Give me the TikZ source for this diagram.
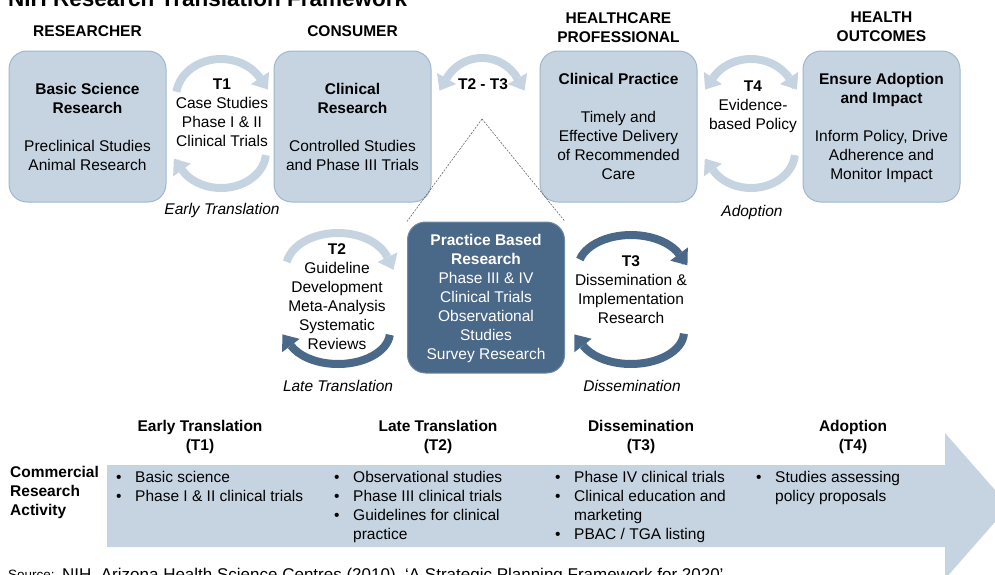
\documentclass[tikz,border=0pt]{standalone}
\usepackage{fontspec}
\setmainfont{Liberation Sans}
\usetikzlibrary{arrows.meta}
\definecolor{boxfill}{RGB}{198,212,226}
\definecolor{boxline}{RGB}{160,182,204}
\definecolor{darkfill}{RGB}{74,104,136}
\definecolor{darkline}{RGB}{110,138,166}
\definecolor{arclight}{RGB}{198,212,226}
\definecolor{arcdark}{RGB}{74,104,136}
\definecolor{bandfill}{RGB}{198,212,226}
\newcommand\myb{\makebox[19pt][l]{\textbullet}}
\newcommand\myi{\hspace*{19pt}}
\begin{document}
\begin{tikzpicture}[x=1pt,y=-1pt,
  >={Triangle[width=22pt,length=14pt,line width=0pt]},
  txt/.style={font=\fontsize{15.5}{19}\selectfont, align=center, inner sep=0pt,
    execute at begin node=\strut, execute at end node=\strut},
  hd/.style={txt, font=\fontsize{15.5}{19}\selectfont\bfseries},
  lbl/.style={txt, font=\fontsize{15.5}{19}\selectfont\itshape},
  box/.style={draw=boxline, fill=boxfill, line width=1pt, rounded corners=18pt,
    minimum width=157pt, minimum height=151pt, inner sep=0pt},
  darkbox/.style={box, draw=darkline, fill=darkfill},
  lightarc/.style={draw=arclight, line width=8pt},
  darkarc/.style={draw=arcdark, line width=8pt},
  dashline/.style={draw=black!60, line width=0.6pt, dash pattern=on 2pt off 1.3pt},
  bullets/.style={txt, align=left, anchor=north west}]
\useasboundingbox (0,0) rectangle (995,574);
\clip (0,0) rectangle (995,574);

% title (clipped at top)
\node[anchor=base west, inner sep=0pt, font=\fontsize{22.5}{27}\selectfont\bfseries] (title) at (8,6) {NIH Research Translation Framework};

% column headers
\node[hd] (hres) at (87.5,33) {RESEARCHER};
\node[hd] (hcon) at (352.5,33) {CONSUMER};
\node[hd] (hhcp) at (618.5,30) {HEALTHCARE\\PROFESSIONAL};
\node[hd] (hout) at (881.5,30) {HEALTH\\OUTCOMES};

% boxes
\node[box] (bsr) at (87.5,126.5) {};
\node[box] (cr) at (352.5,126.5) {};
\node[box] (cp) at (618.5,126.5) {};
\node[box] (eai) at (881.5,126.5) {};
\node[darkbox] (pbr) at (486,297.5) {};

\node[txt] (bsrt) at (87.5,129.5) {\textbf{Basic Science}\\\textbf{Research}\\[19pt]Preclinical Studies\\Animal Research};
\node[txt] (crt) at (352.5,129.5) {\textbf{Clinical}\\\textbf{Research}\\[19pt]Controlled Studies\\and Phase III Trials};
\node[txt] (cpt) at (618.5,129.5) {\textbf{Clinical Practice}\\[19pt]Timely and\\Effective Delivery\\of Recommended\\Care};
\node[txt] (eait) at (881.5,129.5) {\textbf{Ensure Adoption}\\\textbf{and Impact}\\[19pt]Inform Policy, Drive\\Adherence and\\Monitor Impact};
\node[txt, text=white] (pbrt) at (486,300) {\textbf{Practice Based}\\\textbf{Research}\\Phase III \& IV\\Clinical Trials\\Observational\\Studies\\Survey Research};

% dashed callout
\coordinate (apex) at (482,119);
\draw[dashline] (apex) -- (pbr.north west);
\draw[dashline] (apex) -- (pbr.north east);

% T1 arcs
\draw[lightarc,->] (176.44,91.71) arc[start angle=-172,end angle=-30,x radius=45,y radius=38] -- ++(55.6:14);
\draw[lightarc,->] (265.83,155.14) arc[start angle=5,end angle=150,x radius=45,y radius=36] -- ++(-125.8:14);
% T2 - T3 arc
\draw[lightarc,<->] (439.49,90.62) -- (446.49,78.5) arc[start angle=-150,end angle=-30,radius=41] -- ++(60:14);
% T4 arcs
\draw[lightarc,<->] (705.1,89.63) -- (712.9,78) arc[start angle=-150,end angle=-30,x radius=44,y radius=38] -- ++(56.2:14);
\draw[lightarc,->] (794.83,155.14) arc[start angle=5,end angle=150,x radius=44,y radius=36] -- ++(-125.2:14);
% T2 arcs
\draw[lightarc,->] (286.79,261.92) arc[start angle=-170,end angle=-18,x radius=52,y radius=35] -- ++(64.2:14);
\draw[darkarc,->] (389.80,334.79) arc[start angle=5,end angle=155,x radius=52,y radius=32] -- ++(-127.2:14);
% T3 arcs
\draw[darkarc,->] (579.81,259.46) arc[start angle=-165,end angle=-25,x radius=53,y radius=33] -- ++(53.2:14);
\draw[darkarc,->] (683.93,333.67) arc[start angle=3,end angle=155,x radius=53,y radius=32] -- ++(-127.7:14);

% arc texts
\node[txt] (t1) at (222,116) {\textbf{T1}\\Case Studies\\Phase I \& II\\Clinical Trials};
\node[hd] (t23) at (483,86) {T2 - T3};
\node[txt] (t4) at (753,108.5) {\textbf{T4}\\Evidence-\\based Policy};
\node[txt] (t2) at (337,299.5) {\textbf{T2}\\Guideline\\Development\\Meta-Analysis\\Systematic\\Reviews};
\node[txt] (t3) at (631,292) {\textbf{T3}\\Dissemination \&\\Implementation\\Research};

% italic labels
\node[lbl] (lt1) at (222,211) {Early Translation};
\node[lbl] (lt4) at (752,213) {Adoption};
\node[lbl] (lt2) at (338,388) {Late Translation};
\node[lbl] (lt3) at (632,388) {Dissemination};

% big arrow band
\fill[bandfill] (107,465) -- (945,465) -- (945,433) -- (1009,506) -- (945,579) -- (945,547) -- (107,547) -- cycle;

% band headers
\node[hd] (ce1) at (200,438.5) {Early Translation\\(T1)};
\node[hd] (ce2) at (438,438.5) {Late Translation\\(T2)};
\node[hd] (ce3) at (641,438.5) {Dissemination\\(T3)};
\node[hd] (ce4) at (853,438.5) {Adoption\\(T4)};

\node[hd, align=left, anchor=west] (cra) at (10,494) {Commercial\\Research\\Activity};

% bullets
\node[bullets] (col1) at (116,471) {\myb Basic science\\\myb Phase I \& II clinical trials};
\node[bullets] (col2) at (334,471) {\myb Observational studies\\\myb Phase III clinical trials\\\myb Guidelines for clinical\\\myi practice};
\node[bullets] (col3) at (555,471) {\myb Phase IV clinical trials\\\myb Clinical education and\\\myi marketing\\\myb PBAC / TGA listing};
\node[bullets] (col4) at (756,471) {\myb Studies assessing\\\myi policy proposals};

% source (clipped at bottom)
\node[anchor=base west, inner sep=0pt, font=\fontsize{13.5}{17}\selectfont] (srcl) at (8,579) {Source:};
\node[anchor=base west, inner sep=0pt, font=\fontsize{17}{19}\selectfont] (srct) at (62,580) {NIH, Arizona Health Science Centres (2010), ‘A Strategic Planning Framework for 2020’};
\end{tikzpicture}
\end{document}
